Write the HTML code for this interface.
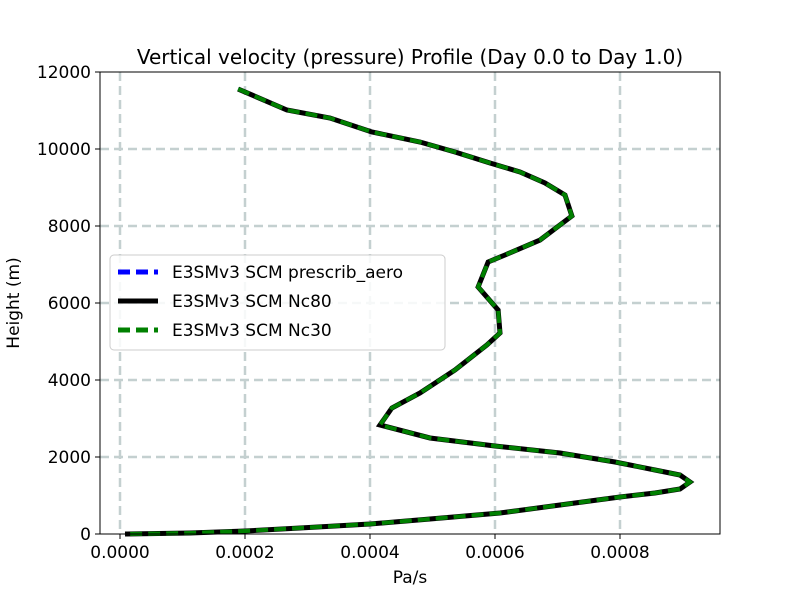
<!DOCTYPE html>
<html><head><meta charset="utf-8"><style>
body{margin:0;background:#fff}
svg text{font-family:"DejaVu Sans","Liberation Sans",sans-serif;fill:#000}
</style></head><body>
<svg id="chart" width="800" height="600" xmlns="http://www.w3.org/2000/svg"></svg>
<script>
const xTicks=[0,0.0002,0.0004,0.0006,0.0008];
const xTickLabels=["0.0000","0.0002","0.0004","0.0006","0.0008"];
const yTicks=[0,2000,4000,6000,8000,10000,12000];
const yTickLabels=["0","2000","4000","6000","8000","10000","12000"];
const heights=[11558,11013,10805,10442,10182,9922,9636,9403,9117,8805,8260,7636,7247,7065,6416,5818,5221,4909,4260,3662,3273,2831,2494,2286,2104,1870,1662,1532,1351,1169,1065,961,753,545,390,260,156,78,26,0];
const omegaPrescrib=[0.000189,0.000267,0.000336,0.000403,0.00048,0.000536,0.000592,0.00064,0.00068,0.000712,0.000723,0.000672,0.000616,0.000589,0.000573,0.000605,0.000608,0.000587,0.000536,0.00048,0.000435,0.000416,0.000496,0.0006,0.000704,0.000792,0.000856,0.000896,0.000912,0.000896,0.000856,0.0008,0.000704,0.000608,0.000496,0.0004,0.000288,0.0002,0.000112,0.000008];
const omegaNc80=omegaPrescrib.slice();
const omegaNc30=omegaPrescrib.slice();
const L=100,R=720,T=72,B=534;
const X=v=>120+v*625000;
const Y=v=>B-(v-0)/12000*(B-T);
const svg=document.getElementById('chart');
const NS='http://www.w3.org/2000/svg';
function mk(t,a,p){const e=document.createElementNS(NS,t);for(const k in a)e.setAttribute(k,a[k]);(p||svg).appendChild(e);return e;}
xTicks.forEach((v,i)=>{const g=mk('line',{x1:X(v),x2:X(v),y1:T,y2:B,stroke:'#c4d0d0',"stroke-width":2.5,"stroke-dasharray":"9,5"});

mk('line',{x1:X(v),x2:X(v),y1:B,y2:B+5,stroke:'#000'});
const t=mk('text',{x:X(v),y:B+24,"font-size":17,"text-anchor":"middle"});t.textContent=xTickLabels[i];
});
yTicks.forEach((v,i)=>{if(v>0&&v<12000){const g=mk('line',{x1:L,x2:R,y1:Y(v),y2:Y(v),stroke:'#c4d0d0',"stroke-width":2.5,"stroke-dasharray":"9,5"});
}
mk('line',{x1:L-5,x2:L,y1:Y(v),y2:Y(v),stroke:'#000'});
const t=mk('text',{x:L-9,y:Y(v)+6,"font-size":17,"text-anchor":"end"});t.textContent=yTickLabels[i];
});
function series(vals,color,w,dash,name){const d=vals.map((v,i)=>(i?'L':'M')+X(v)+','+Y(heights[i])).join('');
const p=mk('path',{d:d,fill:'none',stroke:color,"stroke-width":w,"stroke-dasharray":dash});
}
series(omegaPrescrib,'#0000ff',4,'12,6','line-prescrib-aero');
series(omegaNc80,'#000',5,'none','line-nc80');
series(omegaNc30,'#008000',4,'12,6','line-nc30');
const fr=mk('rect',{x:L,y:T,width:R-L,height:B-T,fill:'none',stroke:'#000',"stroke-width":1});

const ti=mk('text',{x:410,y:64,"font-size":20,"text-anchor":"middle"});ti.textContent='Vertical velocity (pressure) Profile (Day 0.0 to Day 1.0)';

const xl=mk('text',{x:410,y:583,"font-size":17,"text-anchor":"middle"});xl.textContent='Pa/s';

const yl=mk('text',{x:19,y:303,"font-size":17,"text-anchor":"middle",transform:'rotate(-90 19 303)'});yl.textContent='Height (m)';

const lg=mk('g',{});
mk('rect',{x:110,y:255,width:335,height:95,rx:4,fill:'#fff',"fill-opacity":0.85,stroke:'#ccc'},lg);
const entries=[['E3SMv3 SCM prescrib_aero','#0000ff','12,6'],['E3SMv3 SCM Nc80','#000','none'],['E3SMv3 SCM Nc30','#008000','12,6']];
entries.forEach((e,i)=>{const y=272+i*29;
const g=mk('g',{},lg);
mk('line',{x1:118,x2:158,y1:y,y2:y,stroke:e[1],"stroke-width":5,"stroke-dasharray":e[2]},g);
const t=mk('text',{x:172,y:y+6,"font-size":17},g);t.textContent=e[0];});
</script>
</body></html>
